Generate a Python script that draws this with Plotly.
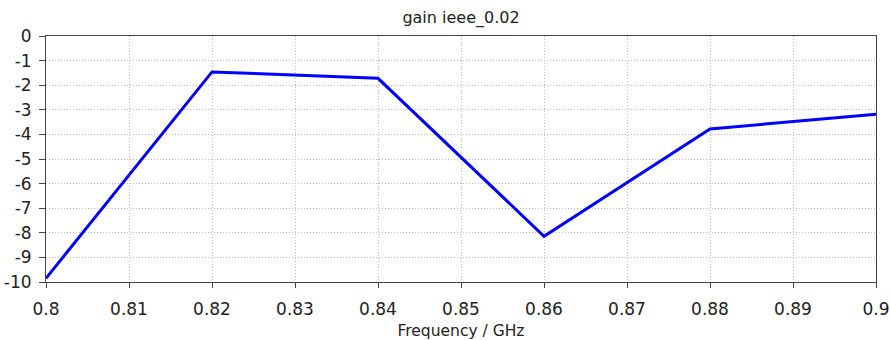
import plotly.graph_objects as go

# Frequency sweep (GHz) and realized gain (dB)
freq_ghz = [0.80, 0.82, 0.84, 0.86, 0.88, 0.90]
gain_db = [-9.85, -1.46, -1.72, -8.14, -3.78, -3.18]

x_ticks = [0.80, 0.81, 0.82, 0.83, 0.84, 0.85, 0.86, 0.87, 0.88, 0.89, 0.90]
x_tick_text = ["0.8", "0.81", "0.82", "0.83", "0.84", "0.85", "0.86", "0.87", "0.88", "0.89", "0.9"]
y_ticks = list(range(0, -11, -1))

font_family = "DejaVu Sans, Verdana, sans-serif"

fig = go.Figure(
    go.Scatter(
        x=freq_ghz,
        y=gain_db,
        mode="lines",
        line=dict(color="#0000ff", width=3),
        showlegend=False,
    )
)

axis_common = dict(
    showline=True,
    linecolor="#444444",
    linewidth=1,
    mirror=True,
    showgrid=True,
    gridcolor="#bdbdbd",
    griddash="1px,2px",
    gridwidth=1,
    zeroline=False,
    ticks="outside",
    tickcolor="#444444",
    automargin=False,
    tickfont=dict(family=font_family, size=17, color="#222222"),
)

fig.update_xaxes(
    range=[0.8, 0.9],
    tickvals=x_ticks,
    ticktext=x_tick_text,
    ticklen=5,
    ticklabelstandoff=7,
    title=dict(text="Frequency / GHz", font=dict(family=font_family, size=15.5, color="#222222"), standoff=19),
    **axis_common,
)
fig.update_yaxes(
    range=[-10, 0],
    tickvals=y_ticks,
    ticktext=[str(v) for v in y_ticks],
    ticklen=6,
    ticklabelstandoff=4,
    **axis_common,
)

fig.update_layout(
    width=890,
    height=340,
    margin=dict(l=46, r=14, t=36, b=58),
    paper_bgcolor="white",
    plot_bgcolor="white",
    title=dict(
        text="gain ieee_0.02",
        x=(46 + 876) / 2 / 890,
        xanchor="center",
        y=1 - 17 / 340,
        yanchor="middle",
        font=dict(family=font_family, size=16, color="#222222"),
    ),
)

fig.write_html("out.html")
